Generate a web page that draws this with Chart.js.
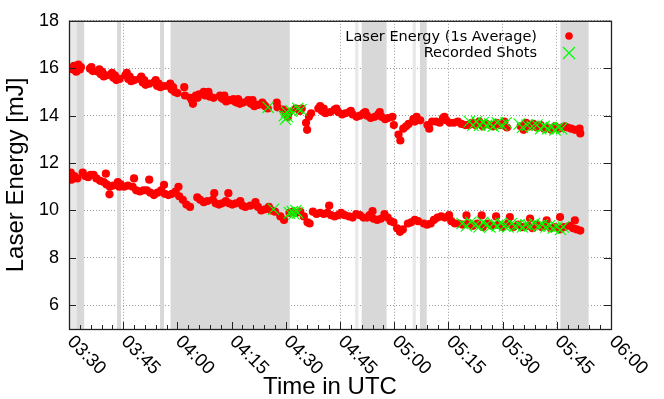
<!DOCTYPE html>
<html>
<head>
<meta charset="utf-8">
<script src="https://cdn.jsdelivr.net/npm/chart.js@4.4.0/dist/chart.umd.min.js"></script>
<style>
  html, body { margin: 0; padding: 0; background: #fff; }
  #graph { width: 664px; height: 399px; }
</style>
</head>
<body>
<div id="graph"><canvas id="energy" width="664" height="399"></canvas></div>
<script>
// time axis: minutes after 03:30 UTC
var tickLabels = ['03:30', '03:45', '04:00', '04:15', '04:30', '04:45', '05:00', '05:15', '05:30', '05:45', '06:00'];

// upper laser energy trace [minute, mJ]
var upperEnergy = [
  [1.0,15.95],[1.8,16.05],[2.6,16.15],[3.3,16.05],[2.0,15.85],[1.4,16.1],[3.0,15.95],
  [5.8,15.98],[6.6,15.88],[6.2,16.05],
  [8.0,15.85],[8.8,15.75],[9.6,15.65],[10.3,15.7],[8.4,15.95],[9.2,15.85],
  [11.5,15.7],[12.3,15.6],[13.1,15.5],[14.0,15.55],[11.9,15.8],[12.7,15.7],
  [15.6,15.7],[16.4,15.55],[17.2,15.45],[18.1,15.5],[16.0,15.8],[16.8,15.65],
  [19.6,15.55],[20.4,15.4],[21.2,15.3],[22.2,15.35],[20.0,15.65],[20.8,15.5],
  [23.6,15.4],[24.4,15.25],[25.3,15.2],[26.4,15.25],[24.0,15.5],[24.8,15.35],
  [27.6,15.25],[28.4,15.1],[29.3,15.0],[30.0,14.95],[28.0,15.35],[28.8,15.2],
  [31.9,15.2],[32.1,14.85],
  [33.6,14.75],[34.3,14.5],[35.1,14.85],[36.0,14.9],[34.0,14.65],[35.6,14.75],
  [37.3,15.0],[38.1,14.9],[39.0,14.8],[40.0,14.75],[37.7,14.85],[38.6,15.0],
  [41.8,14.85],[42.6,14.7],[43.5,14.6],[44.5,14.65],[42.2,14.75],[43.0,14.85],
  [45.5,14.7],[46.4,14.55],[47.3,14.5],[48.2,14.55],[45.9,14.6],[46.8,14.7],
  [49.6,14.65],[50.4,14.5],[51.3,14.4],[52.3,14.45],[50.0,14.55],[50.8,14.65],
  [53.5,14.55],[54.3,14.4],[55.0,14.3],[53.9,14.45],
  [57.5,14.55],[57.7,14.35],
  [59.2,14.25],[60.0,14.1],[60.6,13.95],[61.0,14.15],
  [62.8,14.3],[63.9,14.2],[64.4,14.3],
  [65.6,13.7],[65.9,13.4],[66.4,13.95],[67.0,14.1],
  [69.0,14.3],[70.0,14.2],[71.0,14.1],[72.3,14.15],[69.5,14.4],[70.5,14.3],
  [73.5,14.25],[74.5,14.15],[75.6,14.05],[76.5,14.1],[74.0,14.3],
  [77.6,14.15],[78.5,14.05],[79.6,13.95],[80.5,14.0],[78.0,14.2],
  [81.5,14.1],[82.5,14.0],[83.5,13.9],[84.6,13.95],[82.0,14.15],
  [85.6,14.05],[86.5,13.95],[87.5,13.85],[88.3,13.9],[86.0,14.15],
  [89.5,13.95],[89.9,13.6],
  [91.2,13.2],[91.7,12.95],[92.5,13.45],[93.3,13.55],[94.0,13.65],
  [95.3,13.85],[96.2,13.95],[97.2,13.8],[95.7,13.75],
  [99.2,13.6],[99.7,13.45],[100.5,13.75],[101.6,13.75],[102.6,13.7],
  [103.5,13.9],[104.4,13.8],[105.4,13.7],[106.5,13.7],[103.9,13.95],
  [107.6,13.75],[108.6,13.65],[109.7,13.6],[110.7,13.6],
  [111.5,13.7],[112.5,13.6],[113.5,13.75],[114.5,13.55],[115.5,13.65],[116.5,13.6],
  [117.5,13.55],[118.3,13.7],[119.4,13.6],[120.5,13.75],[121.2,13.5],
  [125.0,13.55],[125.8,13.4],[126.5,13.7],[127.5,13.55],[128.5,13.65],[129.5,13.5],
  [130.5,13.6],[131.5,13.45],[132.5,13.5],[133.5,13.4],[134.5,13.55],[135.5,13.45],[136.4,13.5],
  [137.2,13.55],[138.0,13.5],[139.0,13.45],[140.0,13.4],
  [141.3,13.45],[141.5,13.25]
];

// lower laser energy trace [minute, mJ]
var lowerEnergy = [
  [0.5,11.6],[0.7,11.3],[1.5,11.45],[2.3,11.35],
  [3.8,11.6],[4.5,11.45],[5.3,11.4],[6.0,11.5],
  [6.8,11.5],[7.6,11.35],[8.6,11.25],
  [10.2,11.55],
  [9.6,11.2],[10.4,11.1],[11.3,11.0],[12.2,11.05],
  [11.2,10.68],
  [13.5,11.2],[14.3,11.1],[15.2,11.0],[16.3,11.05],[13.9,11.0],
  [18.0,11.35],
  [17.6,11.0],[18.6,10.85],[19.6,10.8],[20.6,10.85],
  [22.2,11.3],
  [21.5,10.85],[22.5,10.75],[23.5,10.65],[24.5,10.75],
  [26.3,11.08],
  [25.5,10.85],[26.5,10.7],[27.5,10.65],[28.5,10.7],
  [30.3,11.0],
  [29.5,10.8],[30.5,10.6],[31.5,10.45],[32.5,10.25],[33.5,10.15],
  [35.5,10.55],[36.3,10.45],[37.3,10.35],[38.3,10.4],
  [40.2,10.73],
  [39.8,10.45],[40.6,10.3],[41.5,10.25],[42.4,10.3],
  [44.1,10.73],
  [43.4,10.4],[44.3,10.3],[45.2,10.25],[46.2,10.3],
  [47.4,10.4],[48.0,10.2],[48.8,10.15],[50.2,10.2],
  [51.6,10.35],[52.3,10.15],[53.2,10.0],[54.3,10.05],
  [55.3,10.15],[56.0,10.0],[57.0,9.95],
  [58.5,9.75],[59.5,9.6],
  [61.0,9.9],[62.0,9.95],[63.0,9.9],[64.0,9.95],
  [65.0,9.75],[66.0,9.5],[66.6,9.45],
  [67.5,9.95],[68.5,9.85],[69.5,9.9],[70.5,9.85],
  [72.0,10.2],
  [71.5,9.9],[72.5,9.8],[73.5,9.75],[74.5,9.8],
  [75.3,9.9],[76.3,9.8],[77.5,9.75],[78.5,9.7],
  [79.5,9.85],[80.5,9.8],[81.5,9.7],[82.5,9.7],
  [84.0,9.97],
  [83.2,9.8],[84.3,9.65],[85.3,9.6],[86.3,9.65],
  [87.3,9.85],[88.2,9.7],[89.0,9.55],[89.8,9.5],
  [90.8,9.25],[91.6,9.1],[92.4,9.2],
  [93.8,9.45],[94.7,9.5],[95.7,9.6],[96.6,9.55],
  [98.2,9.45],[99.1,9.4],[100.1,9.45],
  [101.0,9.6],[102.0,9.7],[103.0,9.75],[104.0,9.7],
  [105.2,9.8],[105.8,9.55],[106.8,9.45],[107.8,9.45],
  [110.0,9.79],[114.2,9.79],[118.2,9.75],[122.0,9.72],[127.6,9.66],[132.2,9.58],[135.9,9.72],[140.0,9.58],
  [109.0,9.4],[110.5,9.45],[111.8,9.35],[113.0,9.45],[114.5,9.3],[115.8,9.45],[117.0,9.35],
  [118.8,9.4],[120.0,9.3],[121.5,9.45],[123.0,9.3],[124.3,9.4],[125.5,9.3],[127.0,9.35],
  [128.3,9.25],[129.5,9.4],[130.8,9.3],[132.0,9.35],[133.3,9.25],[134.5,9.3],[135.8,9.2],[137.0,9.3],
  [138.5,9.35],[139.5,9.25],[140.5,9.2],[141.5,9.15]
];

// recorded shots [minute, mJ]
var recordedShots = [
  [55.1,14.35],[59.6,14.0],[60.2,14.15],[59.9,13.85],[60.5,13.95],[61.5,14.2],[63.3,14.3],[64.2,14.25],
  [110.8,13.75],[111.8,13.6],[112.8,13.75],[113.6,13.6],[114.6,13.7],[115.6,13.6],[116.5,13.65],
  [117.4,13.55],[118.5,13.7],[119.8,13.6],[121.0,13.7],
  [124.6,13.65],[125.5,13.5],[126.8,13.6],[128.2,13.55],[129.5,13.6],[130.5,13.45],[131.5,13.55],
  [132.5,13.45],[133.5,13.5],[134.5,13.4],[135.5,13.5],[136.3,13.45],
  [56.6,10.05],[61.0,9.9],[61.8,9.95],[62.3,9.85],[62.8,10.0],[63.3,9.9],
  [108.8,9.45],[110.0,9.35],[111.2,9.5],[112.5,9.4],[113.5,9.3],[114.5,9.5],[115.5,9.4],
  [116.5,9.3],[117.5,9.45],[118.5,9.35],[119.5,9.45],[120.5,9.35],[121.5,9.3],[122.5,9.45],
  [123.5,9.35],[124.5,9.4],[125.5,9.3],[126.5,9.4],[127.5,9.35],[128.8,9.45],[130.0,9.35],
  [131.0,9.4],[132.0,9.3],[133.0,9.35],[134.0,9.25],[135.0,9.3],[136.0,9.2],[136.8,9.3]
];

// shaded time intervals [start, end] in minutes
var grayBands = [[2.1,4.2],[13.3,14.4],[25.2,26.3],[28.1,61.1],[81.0,87.9],[97.1,99.0],[136.0,143.8]];
var faintBands = [[0.2,2.1],[79.2,80.1],[95.1,96.0]];

function toPoints(list) {
  return list.map(function (p) { return {x: p[0], y: p[1]}; });
}

var FONT = 'Liberation Sans';

// gnuplot-like frame: bands under the points, inward ticks, rotated labels, key
var gnuplotFrame = {
  id: 'gnuplotFrame',
  beforeDatasetsDraw: function (chart) {
    var ctx = chart.ctx, a = chart.chartArea, x = chart.scales.x;
    ctx.save();
    function shade(list, color) {
      ctx.fillStyle = color;
      list.forEach(function (b) {
        var x0 = x.getPixelForValue(b[0]);
        var x1 = x.getPixelForValue(b[1]);
        ctx.fillRect(x0, a.top, x1 - x0, a.bottom - a.top);
      });
    }
    shade(faintBands, '#e8e8e8');
    shade(grayBands, '#d8d8d8');
    ctx.restore();
  },
  afterDraw: function (chart) {
    var ctx = chart.ctx, a = chart.chartArea, x = chart.scales.x, y = chart.scales.y;
    ctx.save();
    ctx.strokeStyle = '#222';
    ctx.lineWidth = 1;
    ctx.beginPath();
    // x ticks: every 3 min minor, every 15 min major
    for (var m = 0; m <= 150; m += 3) {
      var px = Math.round(x.getPixelForValue(m)) + 0.5;
      var len = (m % 15 === 0) ? 7 : 4;
      ctx.moveTo(px, a.bottom);
      ctx.lineTo(px, a.bottom - len);
    }
    // y ticks on both sides
    y.ticks.forEach(function (t) {
      var py = Math.round(y.getPixelForValue(t.value)) + 0.5;
      ctx.moveTo(a.left, py); ctx.lineTo(a.left + 7, py);
      ctx.moveTo(a.right, py); ctx.lineTo(a.right - 7, py);
    });
    ctx.stroke();
    ctx.lineWidth = 1.3;
    ctx.strokeRect(a.left + 0.5, a.top + 0.5, a.right - a.left, a.bottom - a.top);

    // rotated time labels
    ctx.fillStyle = '#000';
    ctx.font = '18.5px "' + FONT + '"';
    ctx.textAlign = 'left';
    ctx.textBaseline = 'middle';
    tickLabels.forEach(function (lbl, i) {
      ctx.save();
      ctx.translate(x.getPixelForValue(i * 15) + 1, a.bottom + 10);
      ctx.rotate(Math.PI / 4);
      ctx.fillText(lbl, 0, 0);
      ctx.restore();
    });

    // axis title
    ctx.font = '24px "' + FONT + '"';
    ctx.textAlign = 'center';
    ctx.fillText('Time in UTC', 330, 387);

    // key, top right
    ctx.font = '14.5px "DejaVu Sans"';
    ctx.textAlign = 'right';
    ctx.fillText('Laser Energy (1s Average)', 537, 37);
    ctx.fillText('Recorded Shots', 537, 53);
    ctx.fillStyle = '#ff0000';
    ctx.beginPath();
    ctx.arc(569, 36, 3.8, 0, Math.PI * 2);
    ctx.fill();
    ctx.strokeStyle = '#00ff00';
    ctx.lineWidth = 1.2;
    ctx.beginPath();
    ctx.moveTo(563, 47); ctx.lineTo(575, 59);
    ctx.moveTo(575, 47); ctx.lineTo(563, 59);
    ctx.stroke();
    ctx.restore();
  }
};

var ctx = document.getElementById('energy').getContext('2d');
var graph = new Chart(ctx, {
  type: 'scatter',
  data: {
    datasets: [{
      label: 'Recorded Shots',
      data: toPoints(recordedShots),
      pointStyle: 'crossRot',
      radius: 8,
      borderColor: '#00ff00',
      borderWidth: 1.1,
      order: 0
    }, {
      label: 'Laser Energy (1s Average)',
      data: toPoints(upperEnergy),
      backgroundColor: '#ff0000',
      borderWidth: 0,
      radius: 4.1,
      order: 1
    }, {
      label: 'Laser Energy (1s Average)',
      data: toPoints(lowerEnergy),
      backgroundColor: '#ff0000',
      borderWidth: 0,
      radius: 4.1,
      order: 1
    }]
  },
  options: {
    responsive: false,
    animation: false,
    layout: {
      padding: { left: 0, right: 53, top: 20, bottom: 0 }
    },
    scales: {
      x: {
        type: 'linear',
        min: 0,
        max: 150,
        ticks: { stepSize: 15, display: false },
        grid: { color: '#9a9a9a', lineWidth: 1, drawTicks: false },
        border: { display: false, dash: [1, 2] },
        afterFit: function (s) { s.height = 70; }
      },
      y: {
        min: 5,
        max: 18,
        ticks: {
          stepSize: 2,
          includeBounds: false,
          padding: 10,
          color: '#000',
          font: { family: FONT, size: 18 }
        },
        grid: { color: '#9a9a9a', lineWidth: 1, drawTicks: false },
        border: { display: false, dash: [1, 2] },
        title: {
          display: true,
          text: 'Laser Energy [mJ]',
          color: '#000',
          font: { family: FONT, size: 24 },
          padding: { top: 2, bottom: 0 }
        },
        afterFit: function (s) { s.width = 69; }
      }
    },
    plugins: {
      legend: { display: false },
      tooltip: { enabled: false }
    }
  },
  plugins: [gnuplotFrame]
});
</script>
</body>
</html>
